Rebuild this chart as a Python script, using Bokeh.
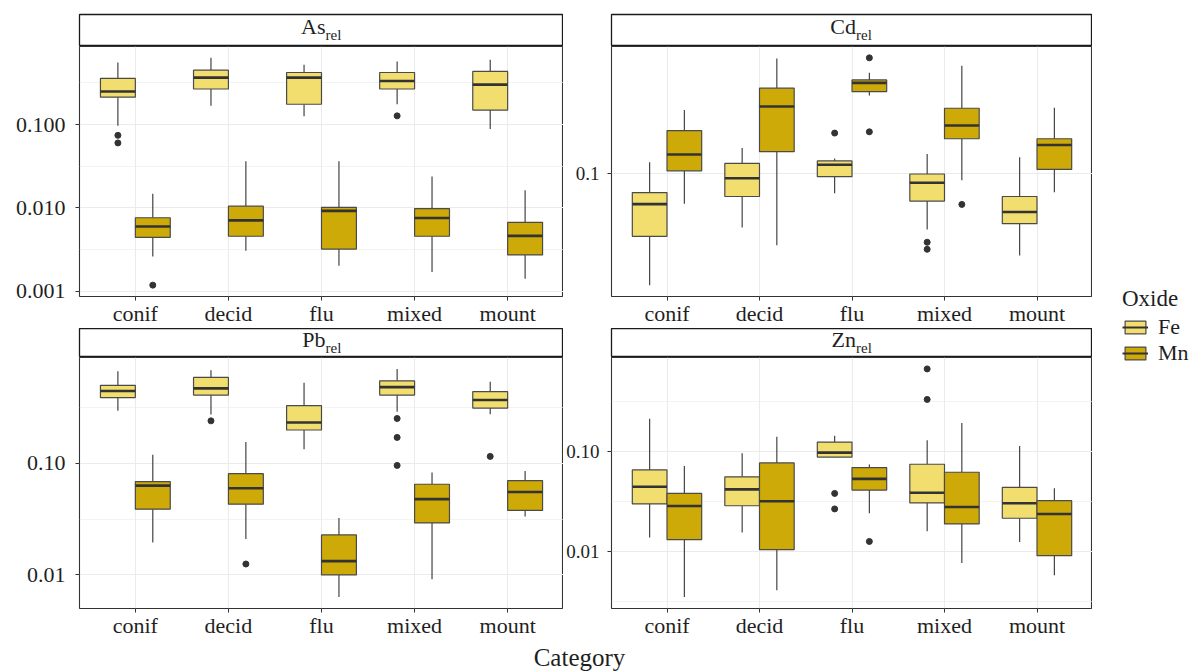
import numpy as np
from bokeh.plotting import figure
from bokeh.models import (Range1d, FixedTicker, PrintfTickFormatter,
                          ColumnDataSource, Legend, LegendItem)
from bokeh.layouts import row, column
from bokeh.embed import file_html
from bokeh.resources import INLINE
from bokeh.core.properties import value

# ---------------- data ----------------
categories = ["conif", "decid", "flu", "mixed", "mount"]
oxides = ["Fe", "Mn"]
elements = ["As", "Cd", "Pb", "Zn"]
facet_suffix = "rel"
x_title = "Category"
legend_title = "Oxide"

# per category: (lower whisker, Q1, median, Q3, upper whisker)
as_fe = [(0.0965, 0.213, 0.249, 0.357, 0.555),
         (0.168, 0.267, 0.365, 0.449, 0.631),
         (0.126, 0.175, 0.365, 0.421, 0.520),
         (0.175, 0.267, 0.333, 0.421, 0.570),
         (0.0881, 0.149, 0.301, 0.434, 0.601)]
as_mn = [(0.0026, 0.00441, 0.00596, 0.0076, 0.01479),
         (0.00306, 0.00456, 0.00706, 0.01047, 0.0361),
         (0.00201, 0.0032, 0.0092, 0.0101, 0.0361),
         (0.0017, 0.00456, 0.00755, 0.0098, 0.0238),
         (0.00141, 0.00272, 0.00461, 0.0067, 0.0162)]
cd_fe = [(0.0219, 0.0426, 0.0661, 0.0773, 0.117),
         (0.048, 0.0733, 0.094, 0.115, 0.142),
         (0.0767, 0.096, 0.113, 0.119, 0.123),
         (0.0467, 0.0689, 0.0885, 0.0996, 0.131),
         (0.0328, 0.0506, 0.0593, 0.0733, 0.125)]
cd_mn = [(0.0664, 0.104, 0.130, 0.180, 0.238),
         (0.0377, 0.135, 0.250, 0.321, 0.481),
         (0.290, 0.306, 0.345, 0.359, 0.396),
         (0.0914, 0.161, 0.193, 0.244, 0.435),
         (0.0778, 0.106, 0.148, 0.161, 0.246)]
pb_fe = [(0.294, 0.386, 0.442, 0.497, 0.665),
         (0.272, 0.407, 0.467, 0.585, 0.677),
         (0.133, 0.198, 0.231, 0.327, 0.524),
         (0.289, 0.407, 0.479, 0.545, 0.697),
         (0.274, 0.311, 0.367, 0.436, 0.534)]
pb_mn = [(0.0195, 0.0388, 0.063, 0.0684, 0.119),
         (0.0210, 0.0430, 0.0597, 0.0805, 0.155),
         (0.00634, 0.0100, 0.0133, 0.0228, 0.0323),
         (0.00916, 0.0292, 0.0477, 0.0648, 0.0827),
         (0.0334, 0.0378, 0.0553, 0.0699, 0.085)]
zn_fe = [(0.01368, 0.0296, 0.0439, 0.0648, 0.210),
         (0.01535, 0.0284, 0.0414, 0.0552, 0.0948),
         (0.0865, 0.0871, 0.0964, 0.123, 0.142),
         (0.0158, 0.0303, 0.0383, 0.0738, 0.128),
         (0.0123, 0.0213, 0.0301, 0.0434, 0.112)]
zn_mn = [(0.00347, 0.01305, 0.0282, 0.0377, 0.0710),
         (0.00407, 0.01033, 0.0315, 0.076, 0.139),
         (0.0239, 0.0407, 0.0527, 0.0684, 0.0733),
         (0.0076, 0.0187, 0.0276, 0.0614, 0.191),
         (0.00574, 0.0090, 0.0235, 0.0319, 0.0424)]

# outliers: (category, value)
as_fe_out = [("conif", 0.0741), ("conif", 0.0601), ("mixed", 0.127)]
as_mn_out = [("conif", 0.00118)]
cd_fe_out = [("flu", 0.174), ("mixed", 0.0393), ("mixed", 0.0357)]
cd_mn_out = [("flu", 0.485), ("flu", 0.177), ("mixed", 0.0658)]
pb_fe_out = [("decid", 0.239), ("mixed", 0.251), ("mixed", 0.170),
             ("mixed", 0.0955), ("mount", 0.115)]
pb_mn_out = [("decid", 0.01253)]
zn_fe_out = [("flu", 0.0377), ("flu", 0.0264), ("mixed", 0.662), ("mixed", 0.328)]
zn_mn_out = [("flu", 0.01248)]

# y tick values and label formats
as_ticks, as_fmt = [0.001, 0.01, 0.1], "%.3f"
cd_ticks, cd_fmt = [0.1], "%.1f"
pb_ticks, pb_fmt = [0.01, 0.1], "%.2f"
zn_ticks, zn_fmt = [0.01, 0.1], "%.2f"

# ---------------- style ----------------
FONT = "Liberation Serif"
FILLS = {"Fe": "#F1DE6E", "Mn": "#CEAA08"}
BOX_LINE = "#4A4A4A"
DARK = "#333333"
GRID = "#EBEBEB"
TEXT = "#1F1F1F"
BOX_W = 0.375


def half_decades(ticks):
    if len(ticks) < 2:
        return []
    e = np.log10(ticks)
    return [float(10 ** v) for v in np.arange(e.min() - 0.5, e.max() + 1.0, 1.0)]


def build_panel(stats, outs, ticks, fmt, width, height, left, bottom,
                ylab_size, ylab_standoff):
    vals = []
    for s in stats:
        for r in s:
            vals += [r[0], r[4]]
    for o in outs:
        vals += [v for _, v in o]
    lo, hi = np.log10(min(vals)), np.log10(max(vals))
    pad = 0.05 * (hi - lo)
    pos = list(range(1, len(categories) + 1))
    p = figure(width=width, height=height, y_axis_type="log",
               x_range=Range1d(0.4, len(categories) + 0.6),
               y_range=Range1d(10 ** (lo - pad), 10 ** (hi + pad)),
               toolbar_location=None, output_backend="svg",
               min_border_left=left, min_border_right=0,
               min_border_top=0, min_border_bottom=bottom)
    p.background_fill_color = "white"
    p.border_fill_color = "white"
    minor = half_decades(ticks)
    p.xgrid.ticker = FixedTicker(ticks=pos)
    p.ygrid.ticker = FixedTicker(ticks=ticks, minor_ticks=minor)
    p.grid.grid_line_color = GRID
    p.grid.grid_line_width = 1.1
    p.ygrid.minor_grid_line_color = GRID
    p.ygrid.minor_grid_line_width = 0.6
    p.outline_line_color = DARK
    p.outline_line_width = 1.1

    p.xaxis.ticker = FixedTicker(ticks=pos)
    p.xaxis.major_label_overrides = {i: c for i, c in zip(pos, categories)}
    p.yaxis.ticker = FixedTicker(ticks=ticks)
    p.yaxis.formatter = PrintfTickFormatter(format=fmt)
    for ax in p.axis:
        ax.axis_line_color = None
        ax.major_tick_line_color = DARK
        ax.major_tick_out = 4
        ax.major_tick_in = 0
        ax.minor_tick_line_color = None
        ax.major_label_text_font = FONT
        ax.major_label_text_color = TEXT
    p.xaxis.major_label_text_font_size = "22px"
    p.xaxis.major_label_standoff = 0
    p.yaxis.major_label_text_font_size = ylab_size
    p.yaxis.major_label_standoff = ylab_standoff

    for k, (ox, s, o) in enumerate(zip(oxides, stats, outs)):
        shift = (k - (len(oxides) - 1) / 2) * BOX_W
        xs = [i + shift for i in pos]
        src = ColumnDataSource(dict(
            x=xs,
            x0=[x - BOX_W / 2 for x in xs],
            x1=[x + BOX_W / 2 for x in xs],
            low=[r[0] for r in s], q1=[r[1] for r in s], med=[r[2] for r in s],
            q3=[r[3] for r in s], up=[r[4] for r in s]))
        p.segment(x0="x", y0="q3", x1="x", y1="up", source=src,
                  line_color=DARK, line_width=1.1)
        p.segment(x0="x", y0="q1", x1="x", y1="low", source=src,
                  line_color=DARK, line_width=1.1)
        p.vbar(x="x", width=BOX_W, bottom="q1", top="q3", source=src,
               fill_color=FILLS[ox], line_color=BOX_LINE, line_width=1.2)
        p.segment(x0="x0", y0="med", x1="x1", y1="med", source=src,
                  line_color=DARK, line_width=2.6)
        if o:
            p.scatter([pos[categories.index(c)] + shift for c, _ in o],
                      [v for _, v in o], size=6, color=DARK)
    return p


def build_strip(elem, width, height, left, top):
    s = figure(width=width, height=height, x_range=Range1d(0, 1), y_range=Range1d(0, 1),
               toolbar_location=None, output_backend="svg",
               x_axis_location=None, y_axis_location=None,
               min_border_left=left, min_border_right=0,
               min_border_top=top, min_border_bottom=0)
    s.grid.visible = False
    s.background_fill_color = "white"
    s.border_fill_color = "white"
    s.outline_line_color = "#1A1A1A"
    s.outline_line_width = 1.3
    s.text(x=[0.5], y=[0.5], text=[elem], text_align="right", text_baseline="middle",
           x_offset=4, y_offset=-4, text_font=value(FONT), text_font_size="22px",
           text_color=TEXT)
    s.text(x=[0.5], y=[0.5], text=[facet_suffix], text_align="left", text_baseline="middle",
           x_offset=4, y_offset=4.5, text_font=value(FONT), text_font_size="15px",
           text_color=TEXT)
    return s


LW, RW, LEGW = 563, 529, 108
LB, RB = 79, 45

strip_tl = build_strip(elements[0], LW, 46, LB, 14)
strip_tr = build_strip(elements[1], RW, 46, RB, 14)
panel_tl = build_panel([as_fe, as_mn], [as_fe_out, as_mn_out], as_ticks, as_fmt,
                       LW, 282, LB, 29, "22px", 10)
panel_tr = build_panel([cd_fe, cd_mn], [cd_fe_out, cd_mn_out], cd_ticks, cd_fmt,
                       RW, 282, RB, 29, "19px", 8)
strip_bl = build_strip(elements[2], LW, 29, LB, 0)
strip_br = build_strip(elements[3], RW, 29, RB, 0)
panel_bl = build_panel([pb_fe, pb_mn], [pb_fe_out, pb_mn_out], pb_ticks, pb_fmt,
                       LW, 283, LB, 30, "22px", 10)
panel_br = build_panel([zn_fe, zn_mn], [zn_fe_out, zn_mn_out], zn_ticks, zn_fmt,
                       RW, 283, RB, 30, "19px", 8)

# legend figure (key glyphs take their look from invisible placeholder renderers)
leg = figure(width=LEGW, height=640, x_range=Range1d(0, 1), y_range=Range1d(0, 1),
             toolbar_location=None, output_backend="svg",
             x_axis_location=None, y_axis_location=None,
             min_border_left=0, min_border_right=0, min_border_top=0, min_border_bottom=0)
leg.grid.visible = False
leg.outline_line_color = None
leg.background_fill_color = "white"
leg.border_fill_color = "white"
items = []
nan = float("nan")
for ox in oxides:
    src = ColumnDataSource(dict(x=[nan], top=[nan], bottom=[nan],
                                x0=[nan], y0=[nan], x1=[nan], y1=[nan]))
    rw = leg.segment(x0="x0", y0="y0", x1="x1", y1="y1", source=src,
                     line_color=DARK, line_width=1.1)
    rb = leg.vbar(x="x", top="top", bottom="bottom", width=0.1, source=src,
                  fill_color=FILLS[ox], line_color=BOX_LINE, line_width=1.2)
    rm = leg.segment(x0="x0", y0="y0", x1="x1", y1="y1", source=src,
                     line_color=DARK, line_width=2.0)
    items.append(LegendItem(label=ox, renderers=[rb, rm]))
legend = Legend(items=items, location=(30, 274), title=legend_title,
                title_text_font=FONT, title_text_font_size="23px", title_text_color=TEXT,
                title_text_font_style="normal", title_standoff=2,
                label_text_font=FONT, label_text_font_size="22px", label_text_color=TEXT,
                glyph_width=26, glyph_height=16, label_height=26, label_standoff=10,
                spacing=0, padding=0, margin=0,
                border_line_color=None, background_fill_alpha=0)
leg.add_layout(legend)

# x title figure
cat = figure(width=1200, height=32, x_range=Range1d(0, 1200), y_range=Range1d(0, 32),
             toolbar_location=None, output_backend="svg",
             x_axis_location=None, y_axis_location=None,
             min_border_left=0, min_border_right=0, min_border_top=0, min_border_bottom=0)
cat.grid.visible = False
cat.outline_line_color = None
cat.text(x=[579], y=[15.5], text=[x_title], text_align="center", text_baseline="middle",
         text_font=value(FONT), text_font_size="25px", text_color=TEXT)

left_col = column(strip_tl, panel_tl, strip_bl, panel_bl, spacing=0)
right_col = column(strip_tr, panel_tr, strip_br, panel_br, spacing=0)
layout = column(row(left_col, right_col, leg, spacing=0), cat, spacing=0)

open("out.html", "w").write(file_html(layout, INLINE))
